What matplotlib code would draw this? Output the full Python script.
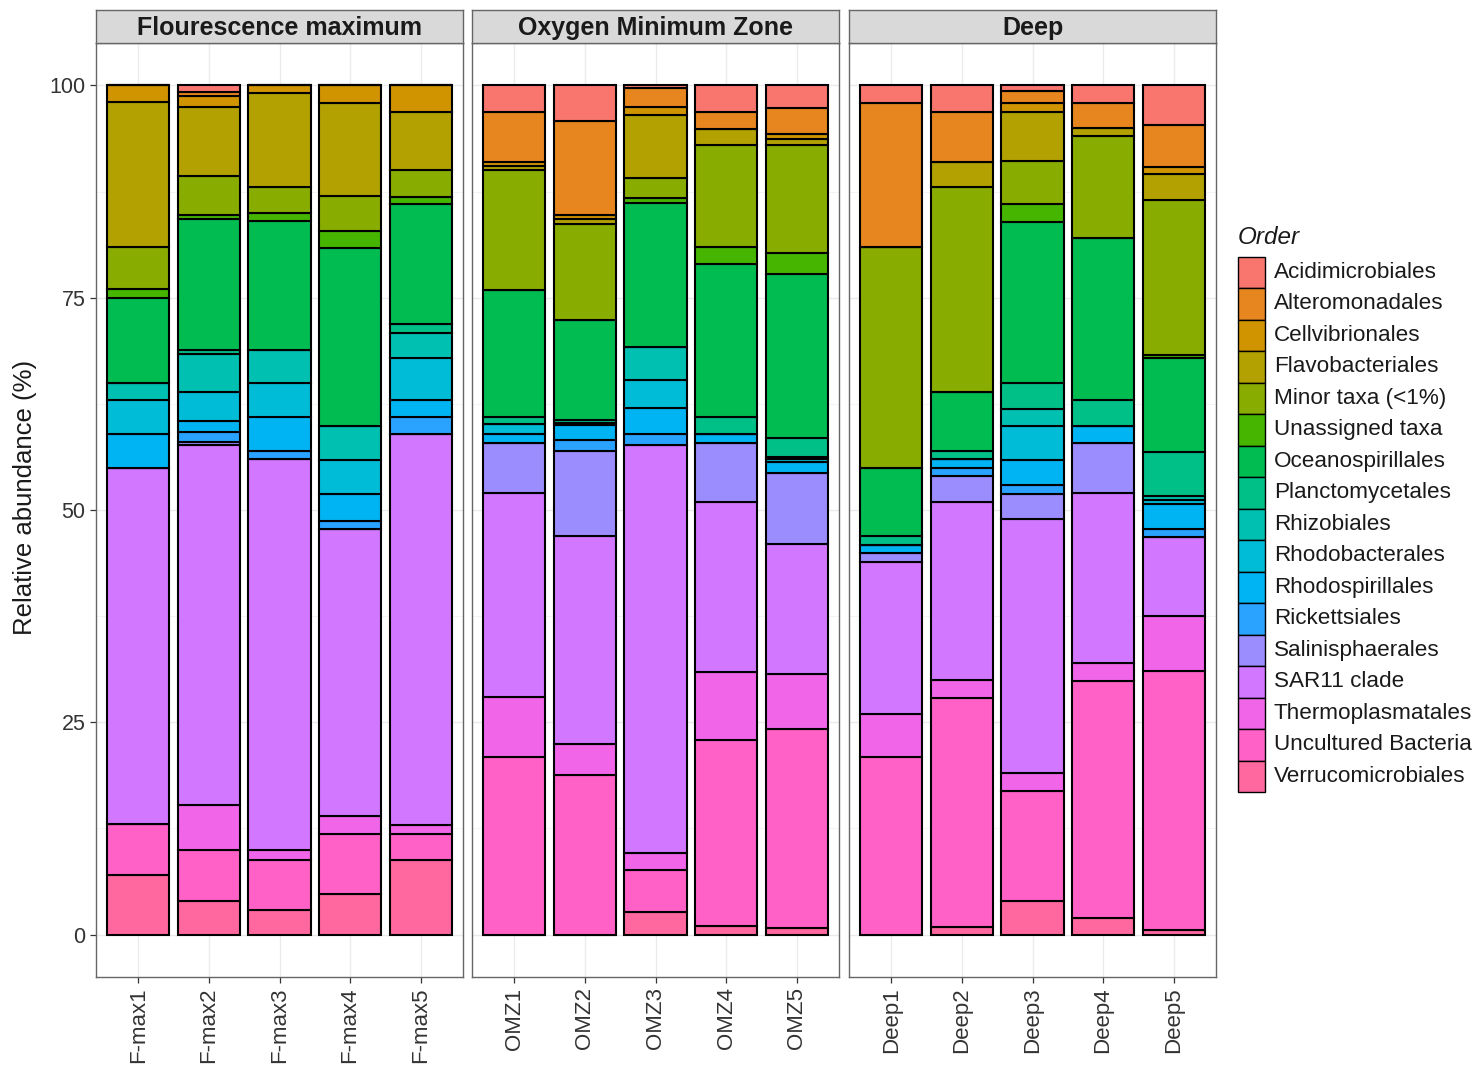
import numpy as np
import matplotlib.pyplot as plt
from matplotlib.patches import Rectangle

plt.rcParams['font.family'] = ['Liberation Sans', 'DejaVu Sans']

# Samples in each depth layer
fmax_samples = ['F-max1', 'F-max2', 'F-max3', 'F-max4', 'F-max5']
omz_samples = ['OMZ1', 'OMZ2', 'OMZ3', 'OMZ4', 'OMZ5']
deep_samples = ['Deep1', 'Deep2', 'Deep3', 'Deep4', 'Deep5']
facet_titles = ['Flourescence maximum', 'Oxygen Minimum Zone', 'Deep']

orders = ['Acidimicrobiales', 'Alteromonadales', 'Cellvibrionales', 'Flavobacteriales',
          'Minor taxa (<1%)', 'Unassigned taxa', 'Oceanospirillales', 'Planctomycetales',
          'Rhizobiales', 'Rhodobacterales', 'Rhodospirillales', 'Rickettsiales',
          'Salinisphaerales', 'SAR11 clade', 'Thermoplasmatales', 'Uncultured Bacteria',
          'Verrucomicrobiales']

# Relative abundance (%) per order, samples F-max1..5, OMZ1..5, Deep1..5
acidimicrobiales = [0, 0.8, 0, 0, 0, 3.1, 4.2, 0.3, 3.1, 2.6, 2.1, 3.1, 0.7, 2.1, 4.7]
alteromonadales = [0, 0.5, 0, 0, 0, 5.9, 11.1, 2.2, 2.0, 3.1, 16.9, 5.9, 1.4, 2.9, 4.9]
cellvibrionales = [2.0, 1.2, 0.9, 2.1, 3.1, 0.5, 0.4, 1.0, 0, 0.6, 0, 0, 1.0, 0, 0.8]
flavobacteriales = [17.0, 8.2, 11.1, 10.9, 6.9, 0.5, 0.6, 7.4, 1.9, 0.7, 0, 3.0, 5.8, 0.9, 3.1]
minor_taxa = [5.0, 4.5, 3.0, 4.1, 3.1, 14.1, 11.3, 2.4, 12.0, 12.7, 26.0, 24.1, 5.1, 12.1, 18.3]
unassigned = [1.0, 0.5, 1.0, 2.0, 0.9, 0, 0, 0.6, 2.0, 2.5, 0, 0, 2.1, 0, 0.3]
oceanospirillales = [10.0, 15.5, 15.2, 21.0, 14.1, 15.0, 11.8, 16.9, 18.1, 19.3, 8.1, 6.9, 18.9, 19.1, 11.1]
planctomycetales = [0, 0.4, 0, 0, 1.0, 0.8, 0.3, 0, 1.9, 2.2, 1.0, 1.0, 3.1, 3.0, 5.1]
rhizobiales = [2.0, 4.5, 3.8, 4.0, 3.0, 0, 0, 3.9, 0, 0.3, 0, 0, 2.0, 0, 0.5]
rhodobacterales = [4.0, 3.4, 4.0, 4.0, 5.0, 1.1, 0.3, 3.3, 0, 0.3, 0, 0, 4.0, 0, 0.5]
rhodospirillales = [4.0, 1.3, 4.0, 3.2, 2.0, 1.1, 1.7, 3.0, 1.1, 1.3, 1.0, 1.0, 3.0, 2.0, 2.9]
rickettsiales = [0, 1.2, 1.0, 0.9, 2.0, 0, 1.4, 1.3, 0, 0, 0, 1.0, 1.0, 0, 1.0]
salinisphaerales = [0, 0.3, 0, 0, 0, 5.9, 10.0, 0, 6.9, 8.4, 1.0, 3.0, 3.0, 5.9, 0]
sar11 = [42.0, 42.5, 46.1, 33.8, 46.0, 24.0, 24.4, 48.1, 20.1, 15.3, 17.9, 21.0, 29.9, 20.0, 9.3]
thermoplasmatales = [0, 5.2, 1.1, 2.1, 1.0, 7.1, 3.7, 2.0, 8.0, 6.5, 5.1, 2.1, 2.1, 2.1, 6.5]
uncultured = [6.0, 6.1, 5.9, 7.1, 3.1, 20.9, 18.8, 4.9, 21.9, 23.4, 20.9, 27.0, 13.0, 27.9, 30.5]
verrucomicrobiales = [7.0, 3.9, 2.9, 4.8, 8.8, 0, 0, 2.7, 1.0, 0.8, 0, 0.9, 3.9, 2.0, 0.5]

abundance = [acidimicrobiales, alteromonadales, cellvibrionales, flavobacteriales,
             minor_taxa, unassigned, oceanospirillales, planctomycetales,
             rhizobiales, rhodobacterales, rhodospirillales, rickettsiales,
             salinisphaerales, sar11, thermoplasmatales, uncultured,
             verrucomicrobiales]


def hcl_to_hex(h, c=100, l=65):
    # polar Luv -> sRGB, same as R's hcl()
    xn, yn, zn = 95.047, 100.0, 108.883
    un = 4 * xn / (xn + 15 * yn + 3 * zn)
    vn = 9 * yn / (xn + 15 * yn + 3 * zn)
    u = c * np.cos(np.radians(h))
    v = c * np.sin(np.radians(h))
    y = yn * ((l + 16) / 116) ** 3
    up = u / (13 * l) + un
    vp = v / (13 * l) + vn
    x = y * 9 * up / (4 * vp)
    z = y * (12 - 3 * up - 20 * vp) / (4 * vp)
    x, y, z = x / 100, y / 100, z / 100
    rgb = [3.2404542 * x - 1.5371385 * y - 0.4985314 * z,
           -0.9692660 * x + 1.8760108 * y + 0.0415560 * z,
           0.0556434 * x - 0.2040259 * y + 1.0572252 * z]
    out = []
    for ch in rgb:
        ch = 12.92 * ch if ch <= 0.0031308 else 1.055 * ch ** (1 / 2.4) - 0.055
        out.append(min(max(ch, 0), 1))
    return tuple(out)


hues = np.linspace(15, 375, len(orders) + 1)[:-1]
colors = [hcl_to_hex(h) for h in hues]

fig = plt.figure(figsize=(14.75, 10.74), dpi=100)

W, H = 1475, 1074
panel_left = [96, 472, 849]
panel_w = 367
panel_top, panel_bot = 43, 977
strip_top = 10

sample_groups = [fmax_samples, omz_samples, deep_samples]

for p in range(3):
    ax = fig.add_axes([panel_left[p] / W, 1 - panel_bot / H,
                       panel_w / W, (panel_bot - panel_top) / H])
    names = sample_groups[p]
    x = np.arange(1, len(names) + 1)
    bottom = np.zeros(len(names))
    # stack from the last order at the bottom up to the first at the top
    for k in range(len(orders) - 1, -1, -1):
        vals = np.array(abundance[k][p * 5:(p + 1) * 5])
        ax.bar(x, vals, bottom=bottom, width=0.88, color=colors[k],
               edgecolor='black', linewidth=1.5, zorder=3)
        bottom += vals

    ax.set_xlim(0.4, 5.6)
    ax.set_ylim(-5, 105)
    ax.set_xticks(x)
    ax.set_xticklabels(names, rotation=90, fontsize=16, color='#333333')
    ax.set_yticks([0, 25, 50, 75, 100])
    ax.set_yticks([12.5, 37.5, 62.5, 87.5], minor=True)
    ax.grid(True, which='major', color='#EBEBEB', linewidth=1.0, zorder=0)
    ax.grid(True, which='minor', axis='y', color='#F3F3F3', linewidth=0.6, zorder=0)
    ax.set_axisbelow(True)
    ax.tick_params(axis='both', which='major', color='#333333', length=4, width=0.9)
    ax.tick_params(axis='y', which='minor', length=0)
    if p == 0:
        ax.set_yticklabels(['0', '25', '50', '75', '100'], fontsize=15.5, color='#333333')
    else:
        ax.tick_params(axis='y', which='major', length=0, labelleft=False)
    for s in ax.spines.values():
        s.set_color('#666666')
        s.set_linewidth(1.0)

    # facet strip
    sax = fig.add_axes([panel_left[p] / W, 1 - panel_top / H,
                        panel_w / W, (panel_top - strip_top) / H])
    sax.set_facecolor('#D9D9D9')
    sax.set_xticks([])
    sax.set_yticks([])
    for s in sax.spines.values():
        s.set_color('#666666')
        s.set_linewidth(1.0)
    sax.text(0.5, 0.45, facet_titles[p], ha='center', va='center',
             fontsize=18, fontweight='bold', color='#1A1A1A', transform=sax.transAxes)

fig.text(25 / W, 1 - 497 / H, 'Relative abundance (%)', rotation=90,
         ha='center', va='center', fontsize=18.5, color='#1A1A1A')

# legend drawn in pixel coordinates: stacked keys touching each other
lax = fig.add_axes([0, 0, 1, 1], facecolor='none')
lax.set_xlim(0, W)
lax.set_ylim(H, 0)
lax.axis('off')
lax.text(1238, 237, 'Order', fontsize=17.5, fontstyle='italic',
         ha='left', va='center', color='#1A1A1A')
key_top, key_h, key_w = 256.5, 31.5, 27
for k, name in enumerate(orders):
    y0 = key_top + k * key_h
    lax.add_patch(Rectangle((1238, y0), key_w, key_h, facecolor=colors[k],
                            edgecolor='black', linewidth=1.0))
    lax.text(1274, y0 + key_h / 2, name, fontsize=16.2, ha='left',
             va='center', color='#1A1A1A')

plt.savefig('out.png', dpi=100)
